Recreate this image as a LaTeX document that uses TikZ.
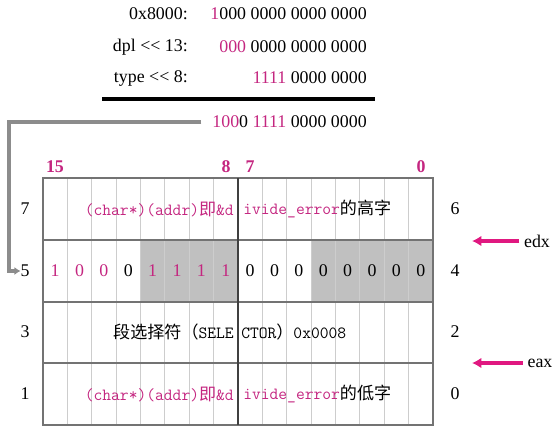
\documentclass[tikz,border=0pt]{standalone}
\usepackage{fontspec}
\setmainfont{Liberation Serif}
\newfontfamily\cjk{Noto Sans CJK SC}
\usetikzlibrary{arrows.meta, positioning}
\definecolor{bitcolor}{RGB}{196, 38, 128}
\definecolor{pointcolor}{RGB}{224, 24, 128}
\definecolor{gridcolor}{RGB}{205, 205, 205}
\definecolor{rulecolor}{RGB}{115, 115, 115}
\definecolor{shadecolor}{RGB}{192, 192, 192}
\definecolor{feedcolor}{RGB}{140, 140, 140}
\newcommand{\zh}[1]{{\cjk #1}}

\begin{document}
\begin{tikzpicture}[
  x=0.75pt, y=-0.75pt,
  every node/.style={
    font=\fontsize{13.4}{16}\selectfont
  },
  sumline/.style={
    anchor=east,
    inner sep=0pt
  },
  code/.style={
    font=\fontsize{12.8}{15}\selectfont\ttfamily,
    inner sep=0pt
  },
  bitnum/.style={
    text=bitcolor,
    font=\fontsize{13.4}{16}\selectfont\bfseries
  },
  colline/.style={
    draw=gridcolor,
    line width=0.6pt
  },
  rowline/.style={
    draw=rulecolor,
    line width=0.9pt
  },
  shaded/.style={
    fill=shadecolor
  },
  feed/.style={
    draw=feedcolor,
    line width=2.6pt,
    -{Latex[length=4.5pt, width=6pt]}
  },
  regarrow/.style={
    draw=pointcolor,
    line width=2.4pt,
    -{Latex[length=7pt, width=8pt]}
  }
]
\useasboundingbox (0,0) rectangle (558,430);

% Sum at the top
\node[sumline] (lbl0x) at (188,14) {0x8000:};
\node[sumline] (lbldpl) at (188,47) {dpl <{}< 13:};
\node[sumline] (lbltype) at (188,78) {type <{}< 8:};
\node[sumline] (val0x) at (367,14) {\textcolor{bitcolor}{1}000 0000 0000 0000};
\node[sumline] (valdpl) at (367,47) {\textcolor{bitcolor}{000} 0000 0000 0000};
\node[sumline] (valtype) at (367,78) {\textcolor{bitcolor}{1111} 0000 0000};
\draw[line width=2.4pt] (102,99) -- (375,99);
\node[sumline] (result) at (367,122) {\textcolor{bitcolor}{100}0 \textcolor{bitcolor}{1111} 0000 0000};

% Table
\fill[shaded] (140.5,240) rectangle (238,302);
\fill[shaded] (311.1,240) rectangle (433,302);
\foreach \c in {1,...,15}
  \draw[colline] (43+\c*24.375,178) -- (43+\c*24.375,425);
\foreach \r in {240,302,363}
  \draw[rowline] (43,\r) -- (433,\r);
\draw[rowline] (43,178) rectangle (433,425);
\draw[draw=black!75, line width=1pt] (238,178) -- (238,425);

% Bit positions
\node[bitnum] (col15) at (55,167) {15};
\node[bitnum] (col8) at (226,167) {8};
\node[bitnum] (col7) at (250,167) {7};
\node[bitnum] (col0) at (421,167) {0};

% Row numbers
\foreach \n/\y in {7/209, 5/271, 3/332, 1/394}
  \node (left\n) at (25,\y) {\n};
\foreach \n/\y in {6/209, 4/271, 2/332, 0/394}
  \node (right\n) at (455,\y) {\n};

% Row contents
\node[code, anchor=east, text=bitcolor] (highl) at (234,209) {(char*)(addr)\zh{即}\&d};
\node[code, anchor=west] (highr) at (243,209) {\textcolor{bitcolor}{ivide\_error}\zh{的高字}};
\foreach \v/\col [count=\i from 0] in {1/bitcolor, 0/bitcolor, 0/bitcolor, 0/black,
    1/bitcolor, 1/bitcolor, 1/bitcolor, 1/bitcolor, 0/black, 0/black, 0/black,
    0/black, 0/black, 0/black, 0/black, 0/black}
  \node[text=\col] (bit\i) at (55.2+\i*24.375,271) {\v};
\node[code, anchor=east] (sell) at (234,332) {\zh{段选择符（}SELE};
\node[code, anchor=west] (selr) at (241,332) {CTOR\zh{）}0x0008};
\node[code, anchor=east, text=bitcolor] (lowl) at (234,394) {(char*)(addr)\zh{即}\&d};
\node[code, anchor=west] (lowr) at (243,394) {\textcolor{bitcolor}{ivide\_error}\zh{的低字}};

% Registers
\node (edx) at (537,241) {edx};
\node (eax) at (540,363) {eax};
\coordinate (edxtip) at (472,241);
\coordinate (eaxtip) at (472,363);
\draw[regarrow] (edx.west) -- (edxtip);
\draw[regarrow] (eax.west) -- (eaxtip);

% Feed the result into bit row
\coordinate (bend) at (9,122);
\draw[feed, shorten <=8pt, shorten >=-3.5pt] (result.west) -- (bend) |- (left5.west);

\end{tikzpicture}
\end{document}
